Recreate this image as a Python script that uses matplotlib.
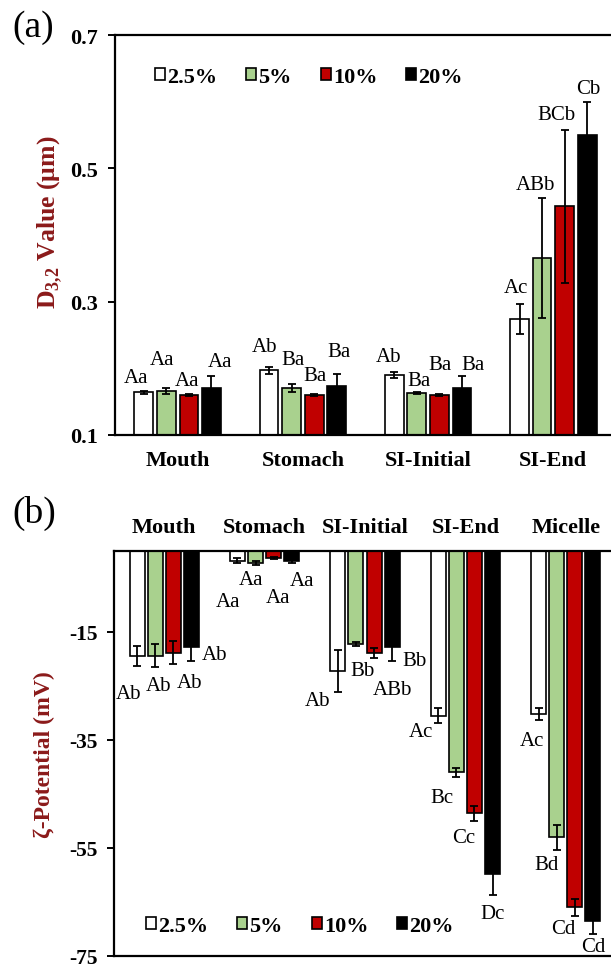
import numpy as np
import matplotlib.pyplot as plt
from matplotlib.patches import Patch

plt.rcParams['font.family'] = 'Liberation Serif'
plt.rcParams['mathtext.fontset'] = 'custom'
plt.rcParams['mathtext.rm'] = 'Liberation Serif'
plt.rcParams['mathtext.bf'] = 'Liberation Serif:bold'

series = ['2.5%', '5%', '10%', '20%']
colors = ['white', '#A9D18E', '#C00000', 'black']
label_red = '#8B1A1A'

# (a) D3,2 droplet size, rows = stage, cols = series
stages_a = ['Mouth', 'Stomach', 'SI-Initial', 'SI-End']
d32 = np.array([
    [0.164, 0.166, 0.160, 0.171],
    [0.197, 0.171, 0.160, 0.173],
    [0.190, 0.163, 0.160, 0.171],
    [0.274, 0.365, 0.443, 0.550],
])
d32_err = np.array([
    [0.002, 0.004, 0.002, 0.017],
    [0.005, 0.006, 0.002, 0.018],
    [0.005, 0.001, 0.002, 0.017],
    [0.023, 0.090, 0.115, 0.049],
])
letters_a = [
    ['Aa', 'Aa', 'Aa', 'Aa'],
    ['Ab', 'Ba', 'Ba', 'Ba'],
    ['Ab', 'Ba', 'Ba', 'Ba'],
    ['Ac', 'ABb', 'BCb', 'Cb'],
]
# where the letters sit (data y) and horizontal nudge (px)
letters_a_y = [
    [0.186, 0.213, 0.181, 0.210],
    [0.232, 0.213, 0.189, 0.225],
    [0.217, 0.181, 0.205, 0.205],
    [0.321, 0.475, 0.580, 0.620],
]
letters_a_dx = [
    [-8, -4, -2, 9],
    [-5, 1, 1, 2],
    [-6, 2, 1, 11],
    [-4, -7, -8, 1],
]

# (b) zeta potential
stages_b = ['Mouth', 'Stomach', 'SI-Initial', 'SI-End', 'Micelle']
zeta = np.array([
    [-19.4, -19.4, -18.8, -17.8],
    [-1.8, -2.2, -1.35, -1.8],
    [-22.3, -17.2, -18.9, -17.8],
    [-30.5, -41.0, -48.6, -59.8],
    [-30.2, -53.0, -66.0, -68.5],
])
zeta_err = np.array([
    [1.9, 2.1, 2.2, 2.5],
    [0.5, 0.3, 0.2, 0.5],
    [3.9, 0.4, 0.9, 2.5],
    [1.4, 0.9, 1.4, 3.9],
    [1.1, 2.3, 1.6, 2.4],
])
letters_b = [
    ['Ab', 'Ab', 'Ab', 'Ab'],
    ['Aa', 'Aa', 'Aa', 'Aa'],
    ['Ab', 'Bb', 'ABb', 'Bb'],
    ['Ac', 'Bc', 'Cc', 'Dc'],
    ['Ac', 'Bd', 'Cd', 'Cd'],
]
letters_b_y = [
    [-26.3, -24.9, -24.3, -19.1],
    [-9.4, -5.2, -8.6, -5.5],
    [-27.7, -22.2, -25.7, -20.3],
    [-33.5, -45.7, -53.0, -67.2],
    [-35.1, -58.1, -69.9, -73.3],
]
letters_b_dx = [
    [-9, 3, 16, 23],
    [-9, -5, 4, 10],
    [-20, 7, 18, 22],
    [-17, -14, -11, 0],
    [-7, -10, -12, 0],
]

W, H = 611, 970
fig = plt.figure(figsize=(W / 100, H / 100), dpi=100)

width = 0.15
step = 0.18
offsets = (np.arange(4) - 1.5) * step


def draw(ax, vals, errs, letters, ly, ldx):
    x = np.arange(vals.shape[0])
    for j in range(4):
        ax.bar(x + offsets[j], vals[:, j], width, color=colors[j], edgecolor='black',
               linewidth=1.2, yerr=errs[:, j], capsize=3,
               error_kw=dict(elinewidth=1.3, capthick=1.3, ecolor='black'))
        for i in range(len(x)):
            ax.annotate(letters[i][j], xy=(x[i] + offsets[j], ly[i][j]),
                        xytext=(ldx[i][j] * 0.72, 0), textcoords='offset points',
                        ha='center', va='center', fontsize=15)
    for s in ['left', 'top', 'bottom', 'right']:
        ax.spines[s].set_linewidth(1.6)
    ax.tick_params(axis='x', length=0)
    ax.tick_params(axis='y', direction='out', length=5, width=1.4, pad=7)


# panel (a)
ax1 = fig.add_axes([115 / W, 1 - 436 / H, 501 / W, (436 - 36) / H])
draw(ax1, d32, d32_err, letters_a, letters_a_y, letters_a_dx)
ax1.set_xlim(-0.5, 3.5)
ax1.set_ylim(0.1, 0.7)
ax1.set_yticks([0.1, 0.3, 0.5, 0.7])
ax1.set_yticklabels(['0.1', '0.3', '0.5', '0.7'], fontweight='bold', fontsize=16)
ax1.set_xticks(np.arange(len(stages_a)))
ax1.set_xticklabels(stages_a, fontsize=16, fontweight='bold')
ax1.tick_params(axis='x', pad=11)

# panel (b)
ax2 = fig.add_axes([114 / W, 1 - 957 / H, 502 / W, (957 - 552) / H])
draw(ax2, zeta, zeta_err, letters_b, letters_b_y, letters_b_dx)
ax2.set_xlim(-0.5, 4.5)
ax2.set_ylim(-75, 0)
ax2.set_yticks([-75, -55, -35, -15])
ax2.set_yticklabels(['-75', '-55', '-35', '-15'], fontweight='bold', fontsize=15.5)
ax2.xaxis.tick_top()
ax2.set_xticks(np.arange(len(stages_b)))
ax2.set_xticklabels(stages_b, fontsize=16, fontweight='bold')
ax2.tick_params(axis='x', pad=10)

# y labels
fig.text(50 / W, 1 - 222 / H, r'D$_{\mathbf{3{,}2}}$ Value (μm)', rotation=90,
         ha='center', va='center', fontsize=18.5, fontweight='bold', color=label_red)
fig.text(44 / W, 1 - 755 / H, 'ζ-Potential (mV)', rotation=90,
         ha='center', va='center', fontsize=17, fontweight='bold', color=label_red)

# panel letters
fig.text(12 / W, 1 - 28 / H, '(a)', fontsize=27, ha='left', va='center')
fig.text(12 / W, 1 - 513 / H, '(b)', fontsize=27, ha='left', va='center')

# legends
handles = [Patch(facecolor=c, edgecolor='black', linewidth=1.2) for c in colors]
leg_kw = dict(ncol=4, frameon=False, loc='center left', borderpad=0, borderaxespad=0,
              handlelength=0.45, handleheight=0.5, handletextpad=0.1, columnspacing=1.3,
              prop={'weight': 'bold', 'size': 16})
fig.legend(handles, series, bbox_to_anchor=(155 / W, 1 - 78 / H), **leg_kw)
fig.legend(handles, series, bbox_to_anchor=(146 / W, 1 - 927 / H), **leg_kw)

fig.savefig('out.png', dpi=100)
